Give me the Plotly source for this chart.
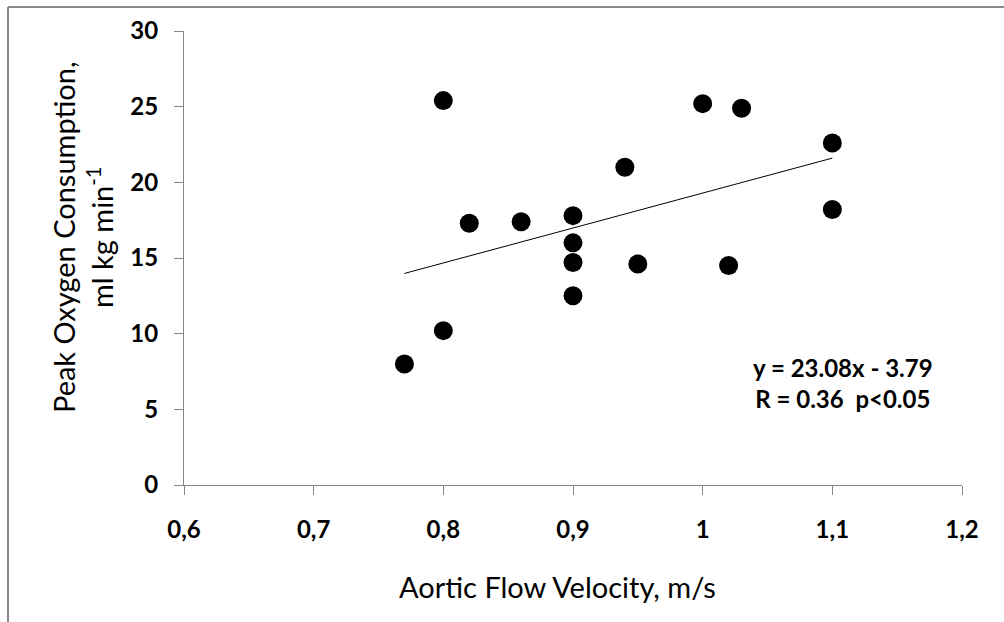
import plotly.graph_objects as go

# data
velocity = [0.80, 1.00, 1.03, 1.10, 0.94, 0.82, 0.86, 0.90, 0.90, 0.90, 0.95, 1.02, 1.10, 0.90, 0.80, 0.77]
peak_vo2 = [25.4, 25.2, 24.9, 22.6, 21.0, 17.3, 17.4, 17.8, 16.0, 14.7, 14.6, 14.5, 18.2, 12.5, 10.2, 8.0]

trend_x = [0.77, 1.10]
trend_y = [13.98, 21.60]

x_tickvals = [0.6, 0.7, 0.8, 0.9, 1.0, 1.1, 1.2]
x_ticktext = ["0,6", "0,7", "0,8", "0,9", "1", "1,1", "1,2"]
y_tickvals = [0, 5, 10, 15, 20, 25, 30]
y_ticktext = ["0", "5", "10", "15", "20", "25", "30"]

x_title = "Aortic Flow Velocity, m/s"
y_title = "Peak Oxygen Consumption,<br>ml kg min<sup>-1</sup>"
stats_text = "y = 23.08x - 3.79<br>R = 0.36&nbsp;&nbsp;p&lt;0.05"

W, H = 1004, 622
ML, MR, MT, MB = 184, 42, 31, 137
PW, PH = W - ML - MR, H - MT - MB

def px_x(p):
    return (p - ML) / PW

def px_y(p):
    return (H - MB - p) / PH

axis_col = "#868686"
font_fam = "Lato, 'Open Sans', sans-serif"

fig = go.Figure()
fig.add_trace(go.Scatter(x=trend_x, y=trend_y, mode="lines",
                         line=dict(color="#000000", width=1), hoverinfo="skip"))
fig.add_trace(go.Scatter(x=velocity, y=peak_vo2, mode="markers",
                         marker=dict(color="#000000", size=19, line=dict(width=0))))

fig.update_layout(
    width=W, height=H,
    margin=dict(l=ML, r=MR, t=MT, b=MB, pad=0),
    paper_bgcolor="white", plot_bgcolor="white",
    showlegend=False,
    font=dict(family=font_fam, color="#000000"),
    xaxis=dict(range=[0.6, 1.2], tickvals=x_tickvals, ticktext=x_ticktext,
               showgrid=False, zeroline=False, showline=True, linecolor=axis_col, linewidth=1,
               ticks="outside", ticklen=9, tickcolor=axis_col, tickwidth=1,
               tickfont=dict(size=24, family=font_fam, weight="bold", color="#000000"),
               ticklabelstandoff=14),
    yaxis=dict(range=[0, 30], tickvals=y_tickvals, ticktext=y_ticktext,
               showgrid=False, zeroline=False, showline=True, linecolor=axis_col, linewidth=1,
               ticks="outside", ticklen=9, tickcolor=axis_col, tickwidth=1,
               tickfont=dict(size=24, family=font_fam, weight="bold", color="#000000"),
               ticklabelstandoff=11),
)

fig.add_annotation(text=x_title, xref="paper", yref="paper", x=px_x(557), y=px_y(586),
                   xanchor="center", yanchor="middle", showarrow=False,
                   font=dict(size=29, family=font_fam, color="#000000"))
fig.add_annotation(text=y_title, xref="paper", yref="paper", x=px_x(82), y=px_y(237),
                   xanchor="center", yanchor="middle", showarrow=False, textangle=-90,
                   font=dict(size=29, family=font_fam, color="#000000"))
fig.add_annotation(text=stats_text, xref="x", yref="y", x=1.1086, y=6.74,
                   xanchor="center", yanchor="middle", showarrow=False, align="center",
                   font=dict(size=24, family=font_fam, weight="bold", color="#000000"))

# outer chart border (top and left edges visible)
fig.add_shape(type="line", xref="paper", yref="paper", x0=px_x(8), x1=px_x(1010),
              y0=px_y(7), y1=px_y(7), line=dict(color="#888888", width=2))
fig.add_shape(type="line", xref="paper", yref="paper", x0=px_x(8), x1=px_x(8),
              y0=px_y(7), y1=px_y(630), line=dict(color="#888888", width=2))

fig.write_html("out.html", config={"displayModeBar": False},
               post_script="document.body.style.margin='0';")
